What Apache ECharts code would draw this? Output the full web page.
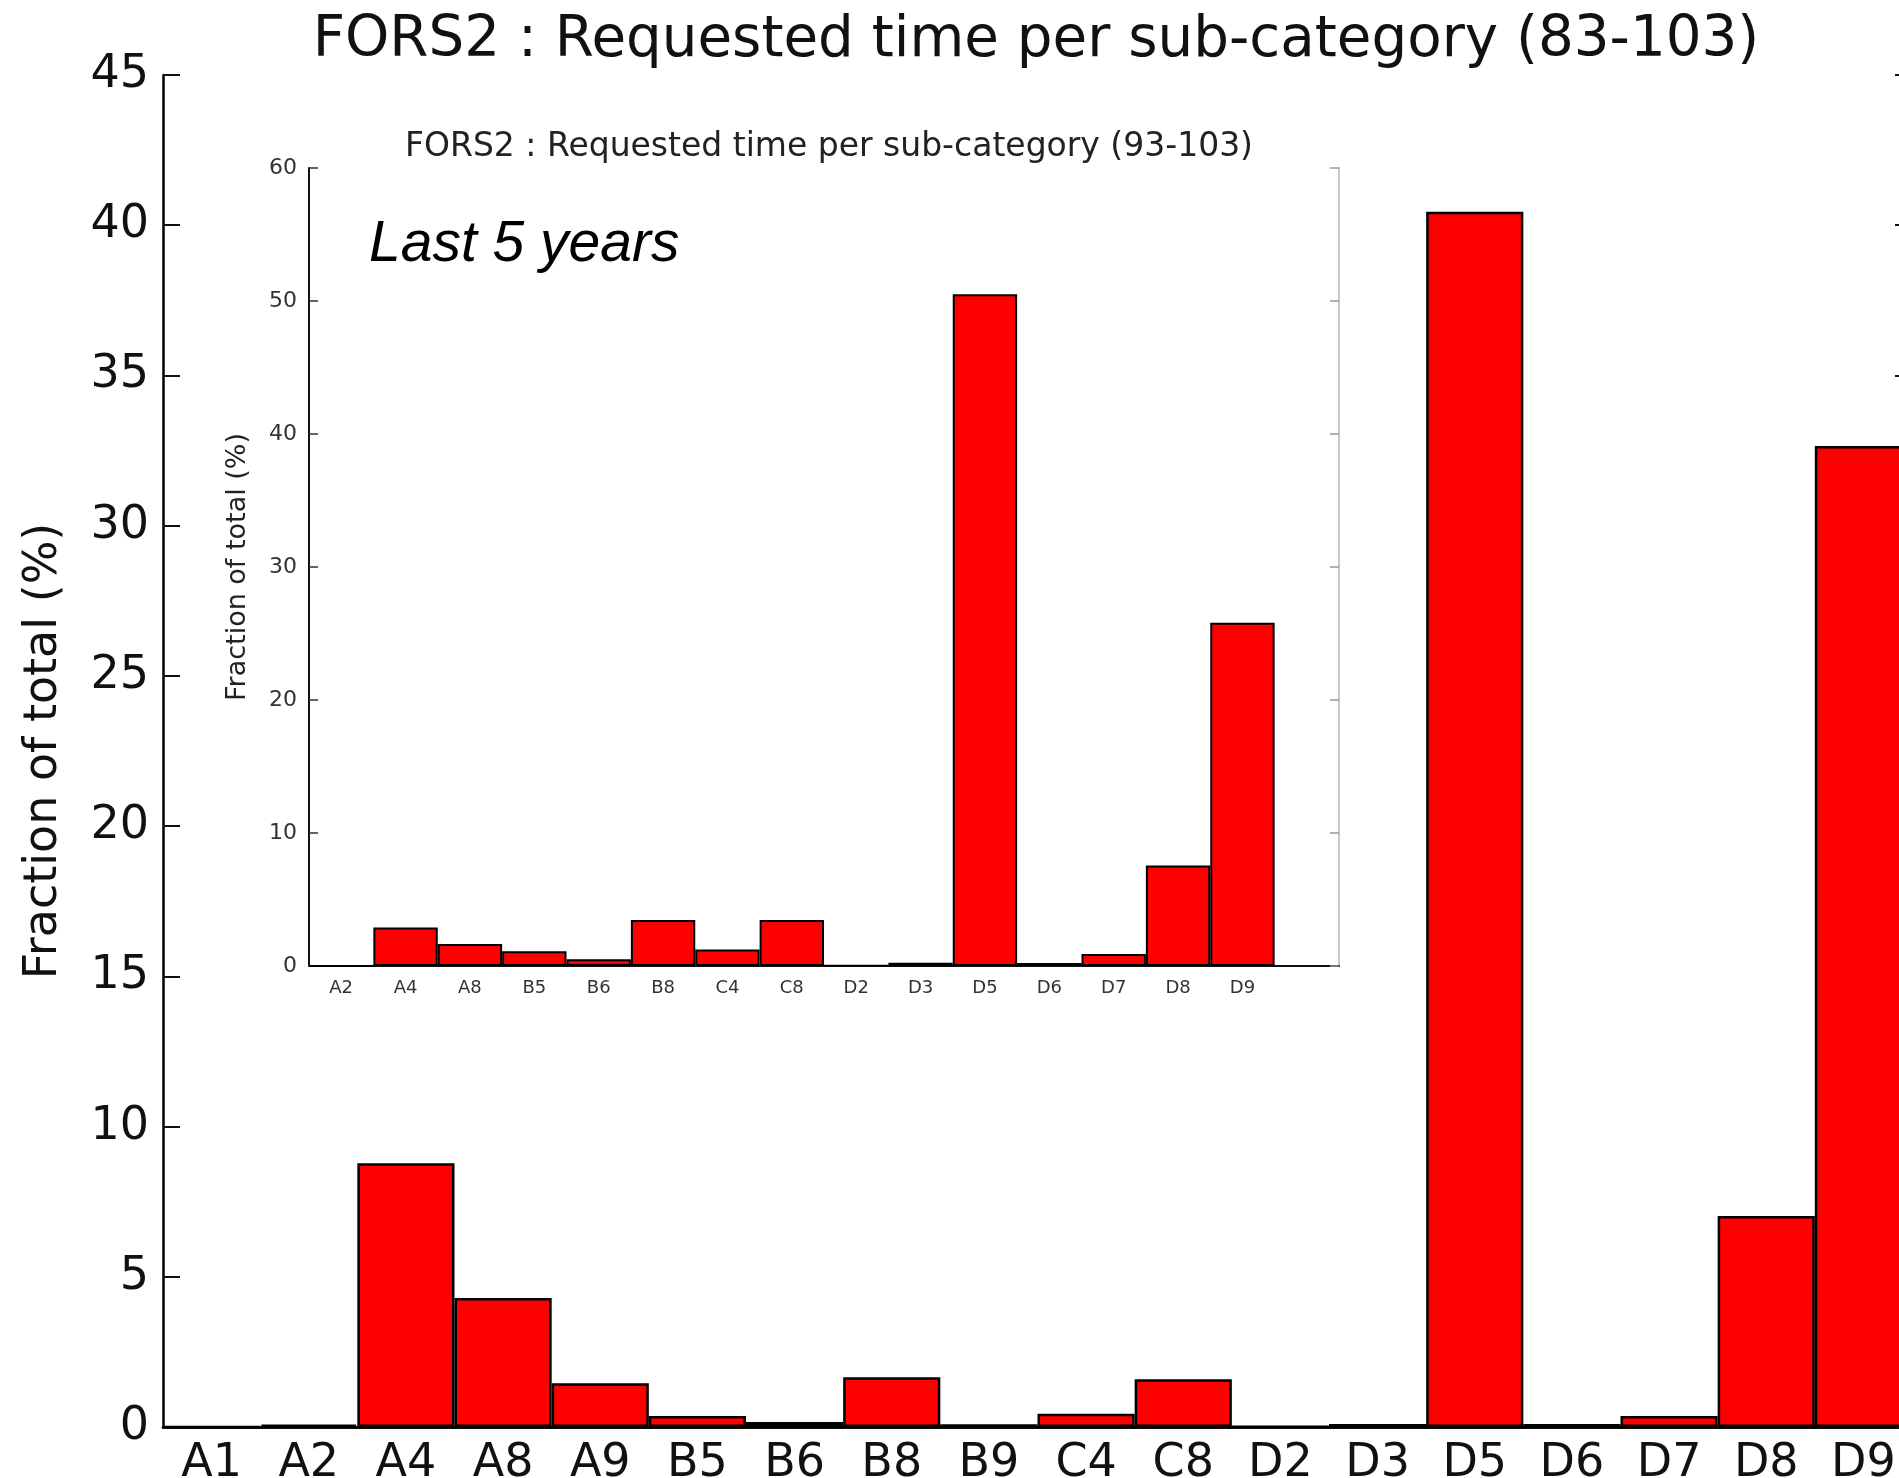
<!DOCTYPE html>
<html>
<head>
<meta charset="utf-8">
<script src="https://cdn.jsdelivr.net/npm/echarts@6/dist/echarts.min.js"></script>
<style>
html,body{margin:0;padding:0;background:#fff;overflow:hidden;}
#chart{width:1899px;height:1478px;}
</style>
</head>
<body>
<div id="chart"></div>
<script>
// Main chart (83-103)
var mainCategories = ['A1','A2','A4','A8','A9','B5','B6','B8','B9','C4','C8','D2','D3','D5','D6','D7','D8','D9'];
var mainValues = [0, 0.08, 8.78, 4.29, 1.46, 0.37, 0.17, 1.66, 0.09, 0.44, 1.59, 0.02, 0.1, 40.45, 0.1, 0.37, 7.02, 32.65];
var mainYTicks = {min: 0, max: 45, interval: 5};

// Inset chart (93-103) - last slot is an empty position on the axis
var insetCategories = ['A2','A4','A8','B5','B6','B8','C4','C8','D2','D3','D5','D6','D7','D8','D9',''];
var insetValues = [0, 2.9, 1.65, 1.1, 0.5, 3.45, 1.25, 3.45, 0.05, 0.25, 50.5, 0.22, 0.9, 7.55, 25.8, null];
var insetYTicks = {min: 0, max: 60, interval: 10};

var mainTitle = 'FORS2 : Requested time per sub-category (83-103)';
var insetTitle = 'FORS2 : Requested time per sub-category (93-103)';
var yName = 'Fraction of total (%)';
var note = 'Last 5 years';

var FONT = 'DejaVu Sans';
var chart = echarts.init(document.getElementById('chart'), null, {renderer: 'canvas'});

var nInset = insetCategories.filter(function (c) { return c !== ''; }).length;

chart.setOption({
  backgroundColor: '#ffffff',
  animation: false,
  title: [
    {text: mainTitle, left: 1031, top: 8, textAlign: 'center',
     textStyle: {fontFamily: FONT, fontSize: 56.3, fontWeight: 'normal', color: '#111'}},
    {text: insetTitle, left: 824, top: 126, textAlign: 'center', z: 20,
     textStyle: {fontFamily: FONT, fontSize: 33, fontWeight: 'normal', color: '#222'}}
  ],
  grid: [
    {left: 163, top: 75, width: 1749, height: 1352, containLabel: false, outerBoundsMode: 'none'},
    {left: 309, top: 168, width: 1030, height: 798, containLabel: false, outerBoundsMode: 'none',
     show: true, backgroundColor: '#ffffff', borderWidth: 0, z: 10}
  ],
  xAxis: [
    {type: 'category', gridIndex: 0, position: 'bottom', data: mainCategories, boundaryGap: true,
     axisLine: {lineStyle: {color: '#000', width: 2.5}},
     axisTick: {inside: true, length: 17, alignWithLabel: true, lineStyle: {color: '#111', width: 2}},
     axisLabel: {fontFamily: FONT, fontSize: 46, color: '#111', margin: 14},
     splitLine: {show: false}},
    {type: 'category', gridIndex: 0, position: 'top', data: mainCategories, boundaryGap: true,
     axisLine: {lineStyle: {color: '#000', width: 2.5}},
     axisTick: {inside: true, length: 17, alignWithLabel: true, lineStyle: {color: '#111', width: 2}},
     axisLabel: {show: false}, splitLine: {show: false}},
    {type: 'category', gridIndex: 1, position: 'bottom', data: insetCategories, boundaryGap: true, z: 11,
     axisLine: {lineStyle: {color: '#c8c8c8', width: 2}},
     axisTick: {inside: true, length: 9, alignWithLabel: true,
                interval: function (i) { return i < nInset; }, lineStyle: {color: '#222', width: 1.5}},
     axisLabel: {fontFamily: FONT, fontSize: 18, color: '#333', margin: 13, interval: 0},
     splitLine: {show: false}},
    {type: 'category', gridIndex: 1, position: 'top', data: insetCategories, boundaryGap: true, z: 11,
     axisLine: {lineStyle: {color: '#111', width: 2}},
     axisTick: {inside: true, length: 9, alignWithLabel: true,
                interval: function (i) { return i < nInset; }, lineStyle: {color: '#333', width: 1.5}},
     axisLabel: {show: false}, splitLine: {show: false}}
  ],
  yAxis: [
    {type: 'value', gridIndex: 0, position: 'left', min: mainYTicks.min, max: mainYTicks.max, interval: mainYTicks.interval,
     name: yName, nameLocation: 'middle', nameGap: 96, nameRotate: 90,
     nameTextStyle: {fontFamily: FONT, fontSize: 46, color: '#111'},
     axisLine: {show: true, lineStyle: {color: '#000', width: 2.5}},
     axisTick: {show: true, inside: true, length: 17, lineStyle: {color: '#111', width: 2}},
     axisLabel: {fontFamily: FONT, fontSize: 46, color: '#111', margin: 14},
     splitLine: {show: false}},
    {type: 'value', gridIndex: 0, position: 'right', min: mainYTicks.min, max: mainYTicks.max, interval: mainYTicks.interval,
     axisLine: {show: true, lineStyle: {color: '#000', width: 2.5}},
     axisTick: {show: true, inside: true, length: 17, lineStyle: {color: '#111', width: 2}},
     axisLabel: {show: false}, splitLine: {show: false}},
    {type: 'value', gridIndex: 1, position: 'left', min: insetYTicks.min, max: insetYTicks.max, interval: insetYTicks.interval, z: 11,
     name: yName, nameLocation: 'middle', nameGap: 58, nameRotate: 90,
     nameTextStyle: {fontFamily: FONT, fontSize: 27, color: '#222'},
     axisLine: {show: true, lineStyle: {color: '#111', width: 2}},
     axisTick: {show: true, inside: true, length: 9, lineStyle: {color: '#333', width: 1.5}},
     axisLabel: {fontFamily: FONT, fontSize: 22, color: '#333', margin: 12},
     splitLine: {show: false}},
    {type: 'value', gridIndex: 1, position: 'right', min: insetYTicks.min, max: insetYTicks.max, interval: insetYTicks.interval, z: 11,
     axisLine: {show: true, lineStyle: {color: '#c8c8c8', width: 2}},
     axisTick: {show: true, inside: true, length: 9, lineStyle: {color: '#999', width: 1.5}},
     axisLabel: {show: false}, splitLine: {show: false}}
  ],
  series: [
    {type: 'bar', xAxisIndex: 0, yAxisIndex: 0, data: mainValues, barWidth: '100%', barCategoryGap: '0%', z: 2,
     itemStyle: {color: '#ff0000', borderColor: '#000', borderWidth: 2.5}},
    {type: 'bar', xAxisIndex: 2, yAxisIndex: 2, data: insetValues, barWidth: '100%', barCategoryGap: '0%', z: 12,
     itemStyle: {color: '#ff0000', borderColor: '#000', borderWidth: 2}}
  ],
  graphic: [
    {type: 'text', left: 369, top: 217, z: 30,
     style: {text: note, fontFamily: 'Liberation Sans', fontStyle: 'italic', fontSize: 57, fill: '#000'}}
  ]
});
</script>
</body>
</html>
